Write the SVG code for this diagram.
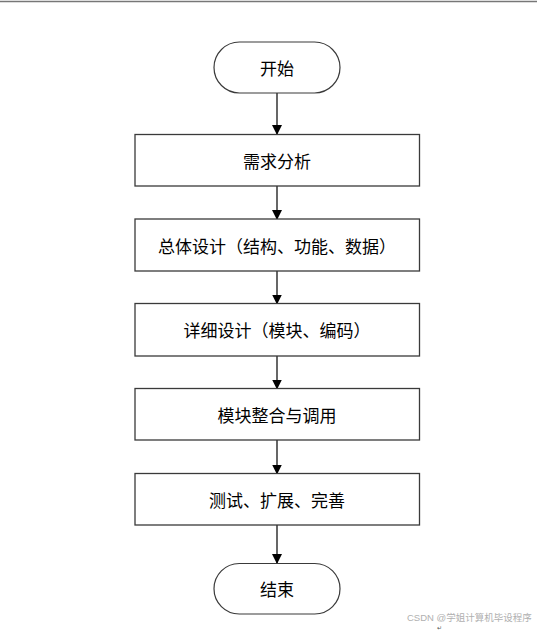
<svg xmlns="http://www.w3.org/2000/svg" width="537" height="631" viewBox="0 0 537 631">
<style>
.box{fill:#fff;stroke:#3a3a3a;stroke-width:1.3}
.term{fill:#fff;stroke:#3a3a3a;stroke-width:1.2}
.lbl{font-family:"Noto Sans CJK SC","Noto Sans",sans-serif;font-size:17px;fill:#000;text-anchor:middle;dominant-baseline:central}
.conn{stroke:#000;stroke-width:1.2;fill:none}
</style>
<defs>
<marker id="arr" markerWidth="10" markerHeight="12" refX="9" refY="5" orient="auto" markerUnits="userSpaceOnUse" viewBox="0 0 10 10">
<path d="M0,0 L10,5 L0,10 z" fill="#000"/>
</marker>
</defs>
<line x1="0" y1="1.5" x2="537" y2="1.5" stroke="#777" stroke-width="1.5"/>
<g id="connectors">
<line class="conn" x1="277" y1="93" x2="277" y2="134" marker-end="url(#arr)"/>
<line class="conn" x1="277" y1="186" x2="277" y2="219" marker-end="url(#arr)"/>
<line class="conn" x1="277" y1="271" x2="277" y2="303.5" marker-end="url(#arr)"/>
<line class="conn" x1="277" y1="356" x2="277" y2="388.5" marker-end="url(#arr)"/>
<line class="conn" x1="277" y1="440" x2="277" y2="473.5" marker-end="url(#arr)"/>
<line class="conn" x1="277" y1="525" x2="277" y2="563" marker-end="url(#arr)"/>
</g>
<g id="start">
<rect class="term" x="214" y="42" width="126" height="51" rx="25.5" ry="25.5"/>
<text class="lbl" x="277" y="67.5">开始</text>
</g>
<g id="n1">
<rect class="box" x="135" y="134.5" width="284.5" height="51.5"/>
<text class="lbl" x="277" y="160">需求分析</text>
</g>
<g id="n2">
<rect class="box" x="135" y="219" width="284.5" height="52"/>
<text class="lbl" x="277" y="245">总体设计（结构、功能、数据）</text>
</g>
<g id="n3">
<rect class="box" x="135" y="303.5" width="284.5" height="52.5"/>
<text class="lbl" x="277" y="329.5">详细设计（模块、编码）</text>
</g>
<g id="n4">
<rect class="box" x="135" y="388.5" width="284.5" height="51.5"/>
<text class="lbl" x="277" y="414">模块整合与调用</text>
</g>
<g id="n5">
<rect class="box" x="135" y="473.5" width="284.5" height="51.5"/>
<text class="lbl" x="277" y="499">测试、扩展、完善</text>
</g>
<g id="end">
<rect class="term" x="214" y="563.5" width="126" height="50.5" rx="25.25" ry="25.25"/>
<text class="lbl" x="277" y="588.5">结束</text>
</g>
<text x="407" y="621" font-family="'Liberation Sans','Noto Sans CJK SC',sans-serif" font-size="9.5" fill="#b0b0b0">CSDN @学姐计算机毕设程序</text>
<text x="437" y="630" font-family="'DejaVu Sans',sans-serif" font-size="6" fill="#555">↵</text>
</svg>
